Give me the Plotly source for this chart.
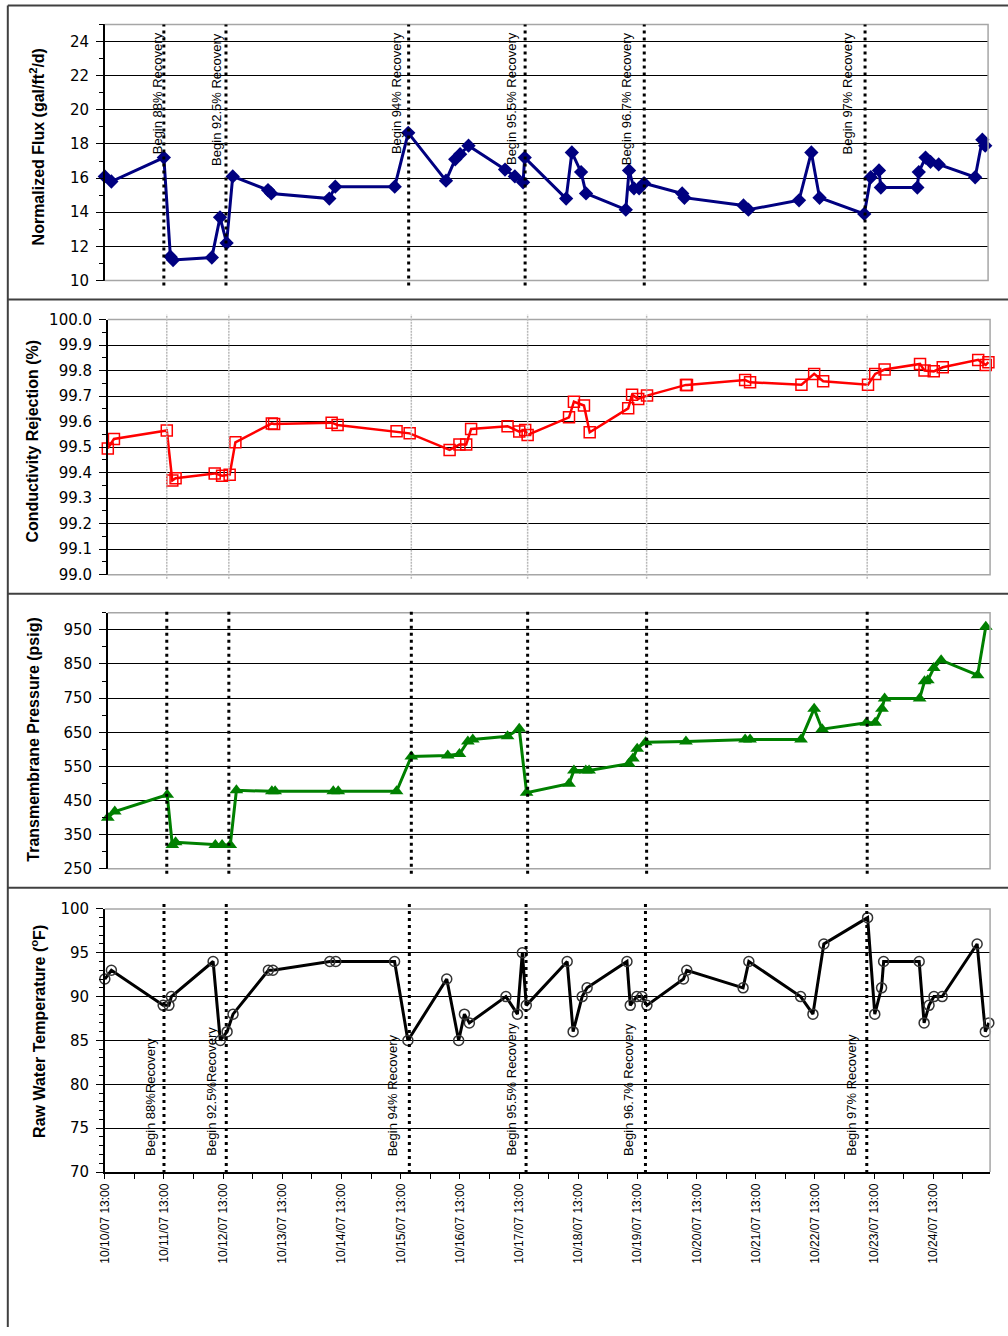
import plotly.graph_objects as go

W, H = 1008, 1336

# ---------------- data ----------------
flux_time = ["2007-10-10 13:00", "2007-10-10 15:40", "2007-10-11 13:00", "2007-10-11 15:40", "2007-10-11 16:45",
             "2007-10-12 08:30", "2007-10-12 11:50", "2007-10-12 14:30", "2007-10-12 17:00", "2007-10-13 07:20",
             "2007-10-13 08:40", "2007-10-14 08:15", "2007-10-14 10:40", "2007-10-15 10:50", "2007-10-15 16:20",
             "2007-10-16 07:40", "2007-10-16 11:25", "2007-10-16 13:25", "2007-10-16 16:50", "2007-10-17 07:40",
             "2007-10-17 11:40", "2007-10-17 15:00", "2007-10-17 15:40", "2007-10-18 08:30", "2007-10-18 10:50",
             "2007-10-18 14:35", "2007-10-18 16:35", "2007-10-19 08:45", "2007-10-19 10:05", "2007-10-19 12:05",
             "2007-10-19 14:10", "2007-10-19 16:10", "2007-10-20 07:40", "2007-10-20 08:35", "2007-10-21 08:35",
             "2007-10-21 10:35", "2007-10-22 07:10", "2007-10-22 12:10", "2007-10-22 15:30", "2007-10-23 09:40",
             "2007-10-23 12:20", "2007-10-23 15:40", "2007-10-23 16:25", "2007-10-24 07:15", "2007-10-24 07:50",
             "2007-10-24 10:35", "2007-10-24 12:35", "2007-10-24 15:55", "2007-10-25 06:45", "2007-10-25 09:40",
             "2007-10-25 10:50"]
flux = [16.1, 15.8, 17.2, 11.4, 11.2, 11.35, 13.7, 12.2, 16.1, 15.3,
        15.1, 14.8, 15.5, 15.5, 18.65, 15.85, 17.1, 17.4, 17.9, 16.5,
        16.1, 15.75, 17.2, 14.8, 17.5, 16.35, 15.1, 14.15, 16.45, 15.4,
        15.4, 15.7, 15.1, 14.85, 14.4, 14.15, 14.7, 17.5, 14.85, 13.9,
        16.05, 16.45, 15.45, 15.45, 16.35, 17.2, 16.95, 16.8, 16.05, 18.25,
        17.9]

rej_time = ["2007-10-10 13:00", "2007-10-10 15:30", "2007-10-11 13:00", "2007-10-11 15:15", "2007-10-11 16:35",
            "2007-10-12 08:30", "2007-10-12 11:30", "2007-10-12 14:35", "2007-10-12 16:55", "2007-10-13 07:45",
            "2007-10-13 08:40", "2007-10-14 08:05", "2007-10-14 10:30", "2007-10-15 10:30", "2007-10-15 15:50",
            "2007-10-16 08:05", "2007-10-16 12:05", "2007-10-16 14:50", "2007-10-16 16:50", "2007-10-17 07:40",
            "2007-10-17 12:25", "2007-10-17 14:50", "2007-10-17 15:50", "2007-10-18 08:40", "2007-10-18 10:40",
            "2007-10-18 14:45", "2007-10-18 17:05", "2007-10-19 08:45", "2007-10-19 10:20", "2007-10-19 12:50",
            "2007-10-19 16:25", "2007-10-20 08:15", "2007-10-20 08:40", "2007-10-21 08:20", "2007-10-21 10:20",
            "2007-10-22 07:15", "2007-10-22 12:25", "2007-10-22 16:05", "2007-10-23 10:20", "2007-10-23 13:15",
            "2007-10-23 17:05", "2007-10-24 07:30", "2007-10-24 09:20", "2007-10-24 13:05", "2007-10-24 16:45",
            "2007-10-25 07:10", "2007-10-25 10:15", "2007-10-25 11:20"]
rejection = [99.495, 99.532, 99.565, 99.369, 99.378, 99.397, 99.388, 99.392, 99.519, 99.593,
             99.591, 99.596, 99.587, 99.562, 99.554, 99.489, 99.510, 99.510, 99.571, 99.582,
             99.561, 99.567, 99.548, 99.617, 99.678, 99.663, 99.558, 99.652, 99.705, 99.689,
             99.702, 99.744, 99.744, 99.763, 99.754, 99.745, 99.787, 99.758, 99.745, 99.787,
             99.804, 99.826, 99.800, 99.797, 99.813, 99.842, 99.822, 99.833]

tmp_time = ["2007-10-10 13:00", "2007-10-10 15:50", "2007-10-11 13:10", "2007-10-11 15:15", "2007-10-11 16:35",
            "2007-10-12 08:45", "2007-10-12 11:30", "2007-10-12 14:50", "2007-10-12 17:20", "2007-10-13 07:45",
            "2007-10-13 09:05", "2007-10-14 08:45", "2007-10-14 10:45", "2007-10-15 10:30", "2007-10-15 16:30",
            "2007-10-16 07:20", "2007-10-16 12:05", "2007-10-16 15:30", "2007-10-16 17:30", "2007-10-17 07:40",
            "2007-10-17 12:25", "2007-10-17 15:25", "2007-10-18 08:40", "2007-10-18 10:40", "2007-10-18 15:30",
            "2007-10-18 16:50", "2007-10-19 09:00", "2007-10-19 10:40", "2007-10-19 12:25", "2007-10-19 15:50",
            "2007-10-20 08:15", "2007-10-21 08:20", "2007-10-21 10:20", "2007-10-22 07:05", "2007-10-22 12:25",
            "2007-10-22 15:40", "2007-10-23 09:40", "2007-10-23 13:15", "2007-10-23 16:00", "2007-10-23 17:05",
            "2007-10-24 07:20", "2007-10-24 09:20", "2007-10-24 10:40", "2007-10-24 13:05", "2007-10-24 16:05",
            "2007-10-25 06:55", "2007-10-25 10:15"]
tmp = [400, 418, 467, 320, 328, 320, 320, 320, 480, 477,
       477, 477, 477, 477, 579, 582, 586, 623, 629, 638,
       660, 473, 499, 538, 538, 538, 558, 573, 602, 621,
       623, 629, 629, 629, 719, 659, 678, 678, 719, 749,
       749, 799, 802, 838, 861, 817, 959]

temp_time = ["2007-10-10 13:00", "2007-10-10 15:40", "2007-10-11 12:40", "2007-10-11 15:00", "2007-10-11 16:00",
             "2007-10-12 08:55", "2007-10-12 11:50", "2007-10-12 14:35", "2007-10-12 17:00", "2007-10-13 07:20",
             "2007-10-13 09:10", "2007-10-14 08:15", "2007-10-14 10:40", "2007-10-15 10:30", "2007-10-15 15:55",
             "2007-10-16 07:40", "2007-10-16 12:30", "2007-10-16 14:50", "2007-10-16 16:50", "2007-10-17 07:40",
             "2007-10-17 12:20", "2007-10-17 14:20", "2007-10-17 15:55", "2007-10-18 08:30", "2007-10-18 10:55",
             "2007-10-18 14:35", "2007-10-18 16:35", "2007-10-19 08:45", "2007-10-19 10:05", "2007-10-19 12:45",
             "2007-10-19 14:50", "2007-10-19 16:50", "2007-10-20 07:40", "2007-10-20 09:00", "2007-10-21 07:50",
             "2007-10-21 10:10", "2007-10-22 07:10", "2007-10-22 12:10", "2007-10-22 16:35", "2007-10-23 10:20",
             "2007-10-23 13:15", "2007-10-23 16:00", "2007-10-23 16:50", "2007-10-24 07:15", "2007-10-24 09:15",
             "2007-10-24 11:15", "2007-10-24 13:15", "2007-10-24 16:35", "2007-10-25 06:45", "2007-10-25 10:05",
             "2007-10-25 11:30"]
temp = [92, 93, 89, 89, 90, 94, 85, 86, 88, 93,
        93, 94, 94, 94, 85, 92, 85, 88, 87, 90,
        88, 95, 89, 94, 86, 90, 91, 94, 89, 90,
        90, 89, 92, 93, 91, 94, 90, 88, 96, 99,
        88, 91, 94, 94, 87, 89, 90, 90, 96, 86,
        87]

recovery_time = ["2007-10-11 13:00", "2007-10-12 14:15", "2007-10-15 16:30",
                 "2007-10-17 15:50", "2007-10-19 16:15", "2007-10-23 10:00"]
recovery_top_labels = ["Begin 88% Recovery", "Begin 92.5% Recovery", "Begin 94% Recovery",
                       "Begin 95.5% Recovery", "Begin 96.7% Recovery", "Begin 97% Recovery"]
recovery_bottom_labels = ["Begin 88%Recovery", "Begin 92.5%Recovery", "Begin 94% Recovery",
                          "Begin 95.5% Recovery", "Begin 96.7% Recovery", "Begin 97% Recovery"]

x_range = ["2007-10-10 13:00", "2007-10-25 12:00"]

# ---------------- layout helpers ----------------
# the photographed page is slightly offset/scaled; map target pixels to paper fractions
AX, BX = 0.995, 6.0
AY, BY = 0.986, 8.6

def px_x(p):
    return max(((p - BX) / AX) / W, 0.0008)

def px_y(p):
    return 1 - ((p - BY) / AY) / H

# plot areas in target pixels: (left, right, top, bottom)
areas = [(104, 989, 24, 280), (107, 991, 319, 574), (107, 991, 612, 868), (104, 991, 908, 1171)]

fig = go.Figure()

series = [
    dict(x=flux_time, y=flux, mode="lines+markers",
         line=dict(color="#000080", width=3),
         marker=dict(symbol="diamond", size=11, color="#000080")),
    dict(x=rej_time, y=rejection, mode="lines+markers",
         line=dict(color="#ff0000", width=2.5),
         marker=dict(symbol="square-open", size=11, color="#ff0000", line=dict(width=1.5, color="#ff0000"))),
    dict(x=tmp_time, y=tmp, mode="lines+markers",
         line=dict(color="#008000", width=3),
         marker=dict(symbol="triangle-up", size=12, color="#008000")),
    dict(x=temp_time, y=temp, mode="lines+markers",
         line=dict(color="#000000", width=3),
         marker=dict(symbol="circle-open", size=10, color="#333333", line=dict(width=1.5, color="#333333"))),
]
for i, s in enumerate(series):
    k = "" if i == 0 else str(i + 1)
    fig.add_trace(go.Scatter(**s, xaxis="x" + k, yaxis="y" + k, showlegend=False, cliponaxis=False,
                             hoverinfo="skip"))

yspecs = [
    dict(range=[10, 25], tick0=10, dtick=2, minor=dict(dtick=1, ticks="outside", ticklen=4, tickcolor="black")),
    dict(range=[99.0, 100.0], tick0=99.0, dtick=0.1, tickformat=".1f",
         minor=dict(dtick=0.05, ticks="outside", ticklen=4, tickcolor="black")),
    dict(range=[250, 1000], tick0=250, dtick=100, minor=dict(dtick=50, ticks="outside", ticklen=4, tickcolor="black")),
    dict(range=[70, 100], tick0=70, dtick=5, minor=dict(dtick=1, ticks="outside", ticklen=4, tickcolor="black")),
]

tickfont = dict(family="DejaVu Sans", size=15, color="black")
layout = dict(width=W, height=H, margin=dict(l=0, r=0, t=0, b=0),
              paper_bgcolor="white", plot_bgcolor="rgba(0,0,0,0)", showlegend=False)

for i, (l, r, t, b) in enumerate(areas):
    k = "" if i == 0 else str(i + 1)
    xa = dict(domain=[px_x(l), px_x(r)], range=x_range, type="date", anchor="y" + k,
              showgrid=False, zeroline=False)
    if i < 3:
        xa.update(showticklabels=False, ticks="", showline=False)
    else:
        xa.update(showline=True, linecolor="black", linewidth=1.5, ticks="outside", ticklen=5,
                  tickcolor="black", tick0="2007-10-10 13:00", dtick=86400000,
                  tickformat="%m/%d/%y %H:%M", tickangle=-90,
                  tickfont=dict(family="Liberation Sans", size=12, color="black"),
                  minor=dict(dtick=43200000, tick0="2007-10-10 13:00", ticks="outside", ticklen=5,
                             tickcolor="black"))
    ya = dict(domain=[px_y(b), px_y(t)], anchor="x" + k, showgrid=True, gridcolor="black", gridwidth=1,
              zeroline=False, showline=True, linecolor="black", linewidth=1.5, ticks="outside",
              ticklen=7, tickcolor="black", tickfont=tickfont, ticklabelstandoff=4)
    ya.update(yspecs[i])
    layout["xaxis" + k] = xa
    layout["yaxis" + k] = ya

fig.update_layout(**layout)

shapes = []
# plot frames (top, right, bottom in gray)
for i, (l, r, t, b) in enumerate(areas):
    if i < 3:
        path = f"M {px_x(l)},{px_y(t)} L {px_x(r)},{px_y(t)} L {px_x(r)},{px_y(b)} L {px_x(l)},{px_y(b)}"
    else:
        path = f"M {px_x(l)},{px_y(t)} L {px_x(r)},{px_y(t)} L {px_x(r)},{px_y(b)}"
    shapes.append(dict(type="path", path=path, xref="paper", yref="paper",
                       line=dict(color="#a6a6a6", width=1.5), layer="above"))

# outer frame and panel separators
frame_col = "#404040"
shapes.append(dict(type="line", xref="paper", yref="paper", x0=px_x(5), x1=px_x(5), y0=px_y(5), y1=0,
                   line=dict(color=frame_col, width=2)))
for yy in [5, 299, 593, 887]:
    shapes.append(dict(type="line", xref="paper", yref="paper", x0=px_x(5), x1=1, y0=px_y(yy), y1=px_y(yy),
                       line=dict(color=frame_col, width=2)))

# recovery lines
line_ext = [(24, 285), (314, 578), (607, 873), (903, 1172)]
for i, (y_top, y_bot) in enumerate(line_ext):
    k = "" if i == 0 else str(i + 1)
    for rt in recovery_time:
        if i == 1:
            ln = dict(color="#b8b8b8", width=1.5, dash="2px,1px")
        else:
            ln = dict(color="black", width=3, dash="3px,4px")
        shapes.append(dict(type="line", xref="x" + k, yref="paper", x0=rt, x1=rt,
                           y0=px_y(y_bot), y1=px_y(y_top), line=ln, layer="above"))

fig.update_layout(shapes=shapes)

ann = []
lab_font = dict(family="Liberation Sans", size=13, color="black")
top_shift = [-6, -9, -12, -13, -17, -18]
bot_shift = [-14, -15, -17, -15, -17, -16]
for j, rt in enumerate(recovery_time):
    ann.append(dict(x=rt, xref="x", y=px_y(30), yref="paper", text=recovery_top_labels[j],
                    textangle=-90, xanchor="center", yanchor="top", xshift=top_shift[j],
                    showarrow=False, font=lab_font))
    ann.append(dict(x=rt, xref="x4", y=px_y(1157), yref="paper", text=recovery_bottom_labels[j],
                    textangle=-90, xanchor="center", yanchor="bottom", xshift=bot_shift[j],
                    showarrow=False, font=lab_font))

title_font = dict(family="Liberation Sans", size=16, color="black")
titles = [("<b>Normalized Flux (gal/ft<sup>2</sup>/d)</b>", 37, 146),
          ("<b>Conductivity Rejection (%)</b>", 32, 440),
          ("<b>Transmembrane Pressure (psig)</b>", 33, 738),
          ("<b>Raw Water Temperature (<sup>o</sup>F)</b>", 37, 1030)]
for txt, xx, yy in titles:
    ann.append(dict(x=px_x(xx), y=px_y(yy), xref="paper", yref="paper", text=txt, textangle=-90,
                    xanchor="center", yanchor="middle", showarrow=False, font=title_font))

fig.update_layout(annotations=ann, hovermode=False)

post = ("document.documentElement.style.margin='0';document.documentElement.style.padding='0';"
        "document.documentElement.style.overflow='hidden';"
        "document.body.style.margin='0';document.body.style.padding='0';document.body.style.overflow='hidden';"
        "var gd=document.getElementById('{plot_id}');gd.style.position='absolute';"
        "gd.style.left='0px';gd.style.top='0px';")
fig.write_html("out.html", config={"displayModeBar": False}, post_script=post)
